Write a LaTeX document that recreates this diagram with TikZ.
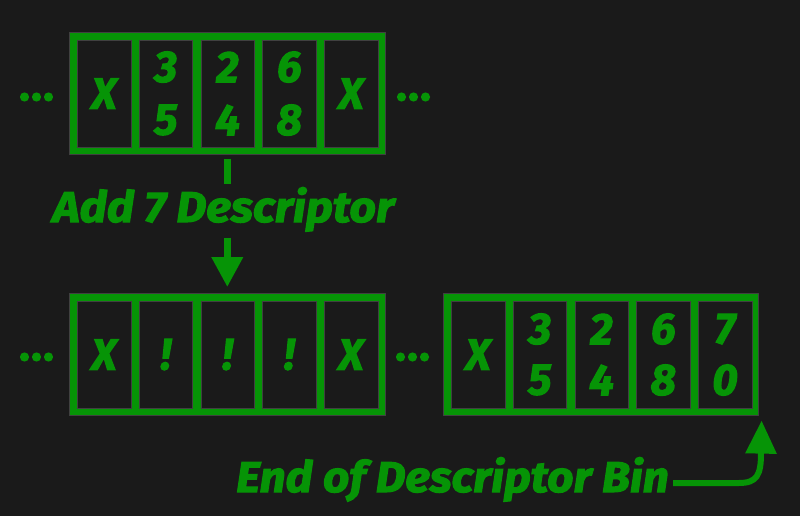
\documentclass[tikz,border=0pt]{standalone}
\usepackage{fontspec}
\newfontfamily\heavyfam{Fira Sans}[BoldItalicFeatures={FakeBold=2.5}]
\newfontfamily\widefam{Fira Sans}[BoldItalicFeatures={FakeBold=2.5, FakeStretch=1.08}]
\newfontfamily\midfam{Fira Sans}[BoldItalicFeatures={FakeBold=2.5, FakeStretch=1.07}]
\newcommand\heavy{\heavyfam\bfseries\itshape}
\newcommand\heavywide{\widefam\bfseries\itshape}
\newcommand\heavymid{\midfam\bfseries\itshape}
\usetikzlibrary{arrows.meta}
\definecolor{bg}{HTML}{1A1A1A}
\definecolor{grn}{HTML}{069406}
\begin{document}
\begin{tikzpicture}[x=1pt,y=-1pt,
  binbox/.style={fill=grn, draw=black!75, line width=0.6pt, minimum width=316pt, minimum height=122pt, inner sep=0pt, anchor=north west},
  cellbox/.style={fill=bg, draw=black!75, line width=0.6pt, minimum width=53.5pt, minimum height=106.5pt, inner sep=0pt, anchor=north west},
  sym/.style={text=grn, inner sep=0pt, font=\heavy\fontsize{44}{50}\selectfont},
  lab/.style={text=grn, inner sep=0pt, font=\heavywide\fontsize{43}{50}\selectfont},
  stem/.style={draw=grn, line width=7pt},
  dotmark/.style={fill=grn}
]
\fill[bg] (0,0) rectangle (800,516);
\useasboundingbox (0,0) rectangle (800,516);

% bins
\node[binbox] (A) at (69,32) {};
\node[binbox] (B) at (69,293) {};
\node[binbox, minimum width=315pt] (C) at (443,293) {};
\foreach \n in {A,B,C}
  \foreach \i in {0,...,4}
    \node[cellbox] (\n\i) at ([xshift=8pt+61.75pt*\i, yshift=-8pt]\n.north west) {};

% top bin contents
\node[sym] (A0x) at (A0) {X};
\node[sym] (A1t) at ([yshift=26.5pt]A1.center) {3};
\node[sym] (A1b) at ([yshift=-26.5pt]A1.center) {5};
\node[sym] (A2t) at ([yshift=26.5pt]A2.center) {2};
\node[sym] (A2b) at ([yshift=-26.5pt]A2.center) {4};
\node[sym] (A3t) at ([yshift=26.5pt]A3.center) {6};
\node[sym] (A3b) at ([yshift=-26.5pt]A3.center) {8};
\node[sym] (A4x) at (A4) {X};

% bottom-left bin contents
\node[sym] (B0x) at (B0) {X};
\node[sym] (B1x) at (B1) {!};
\node[sym] (B2x) at (B2) {!};
\node[sym] (B3x) at (B3) {!};
\node[sym] (B4x) at (B4) {X};

% bottom-right bin contents
\node[sym] (C0x) at (C0) {X};
\node[sym] (C1t) at ([yshift=25.5pt]C1.center) {3};
\node[sym] (C1b) at ([yshift=-25.5pt]C1.center) {5};
\node[sym] (C2t) at ([yshift=25.5pt]C2.center) {2};
\node[sym] (C2b) at ([yshift=-25.5pt]C2.center) {4};
\node[sym] (C3t) at ([yshift=25.5pt]C3.center) {6};
\node[sym] (C3b) at ([yshift=-25.5pt]C3.center) {8};
\node[sym] (C4t) at ([yshift=25.5pt]C4.center) {7};
\node[sym] (C4b) at ([yshift=-25.5pt]C4.center) {0};

% ellipses
\foreach \x in {24.5,36.5,48.5} {
  \fill[dotmark] (\x,97) circle (4.6);
  \fill[dotmark] (\x,357) circle (4.6);
}
\foreach \x in {401.5,413.5,425.5} {
  \fill[dotmark] (\x,97) circle (4.6);
  \fill[dotmark] (\x-1,357) circle (4.6);
}

% label and arrow
\node[lab, anchor=base] (add) at (223.5,222) {Add 7 Descriptor};
\draw[stem] ([yshift=-4pt]A.south) -- ([yshift=-29pt]A.south);
\draw[stem, -{Triangle[length=30pt,width=30pt]}] ([yshift=-83pt]A.south) -- ([yshift=6pt]B.north);

% end label and curved arrow
\node[lab, font=\heavymid\fontsize{43}{50}\selectfont, anchor=base west] (endl) at (236,492) {End of Descriptor Bin};
\coordinate (tipC) at ([xshift=3pt, yshift=-5pt]C.south east);
\draw[draw=grn, line width=6pt, -{Triangle[length=33pt,width=30pt]}]
  (endl.east |- 0,483) ++(4,0) -- (739,483) .. controls (757,483) and (761,475) .. (761,453) -- (tipC);
\end{tikzpicture}
\end{document}
